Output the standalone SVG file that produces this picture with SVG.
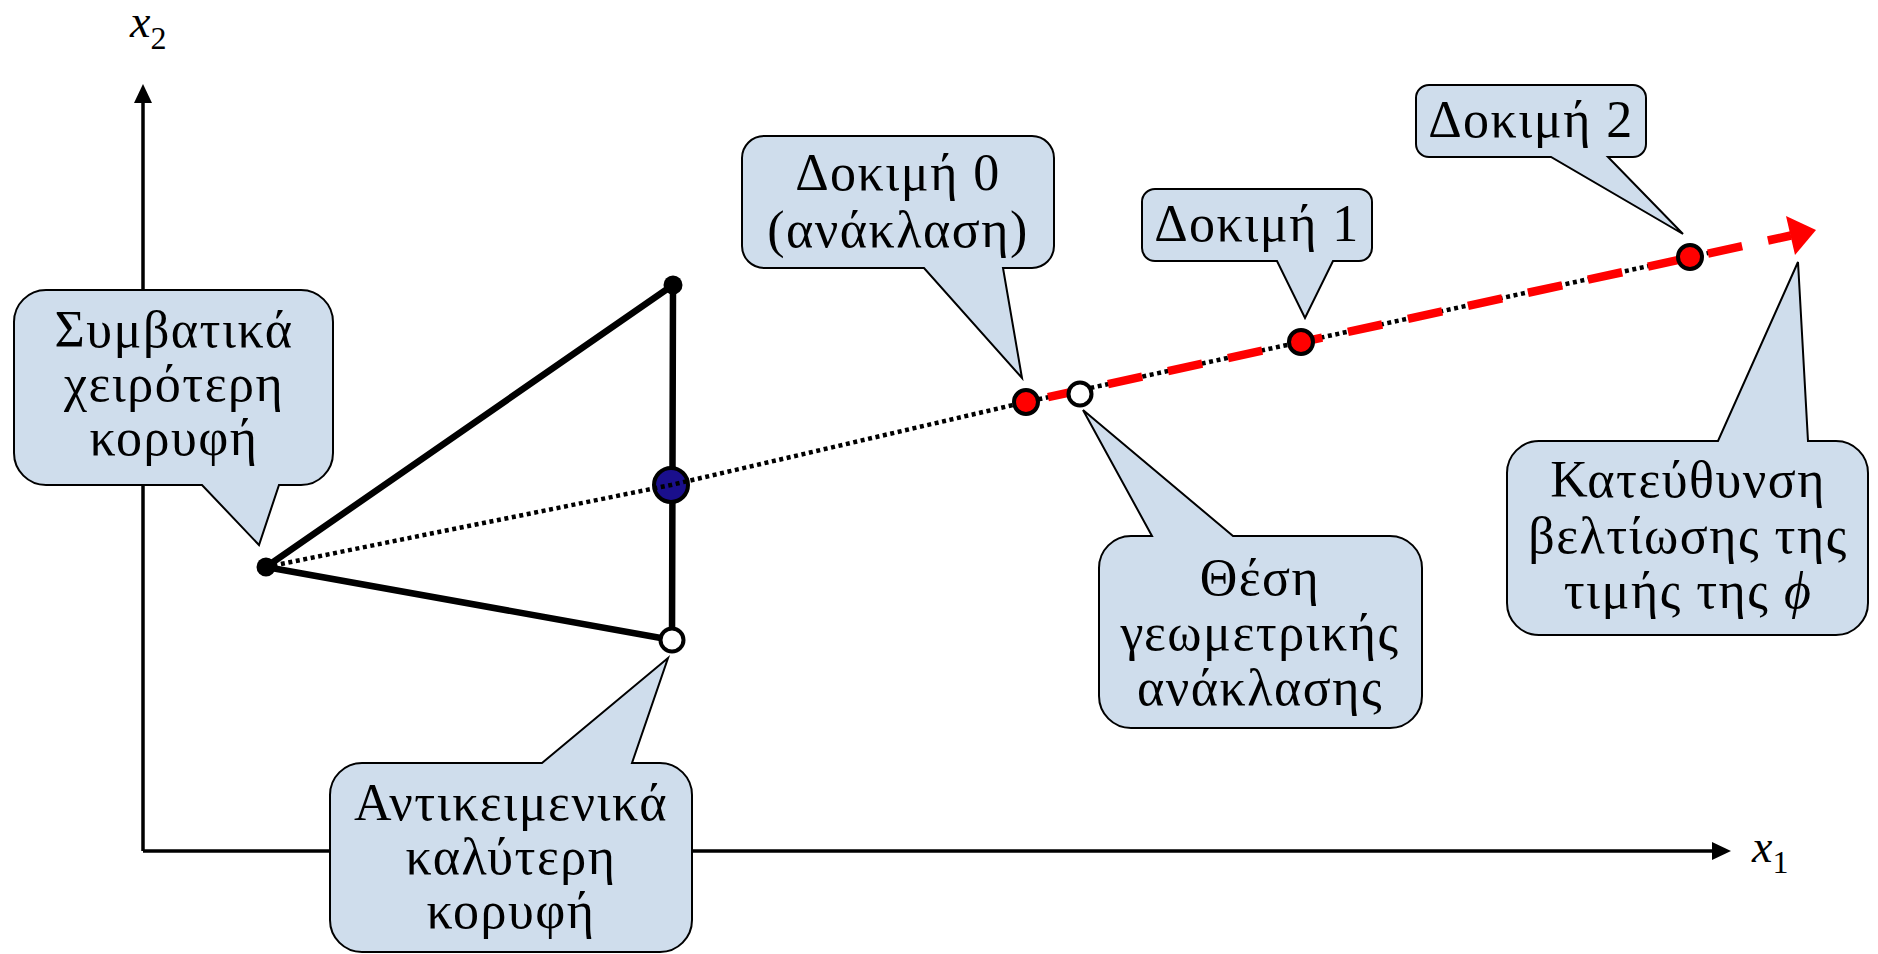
<svg xmlns="http://www.w3.org/2000/svg" width="1878" height="954" viewBox="0 0 1878 954">
  <style>
    .axis { stroke:#000; stroke-width:3.5; fill:none; }
    .edge { stroke:#000; stroke-width:6.5; fill:none; stroke-linecap:round; }
    .dotted { stroke:#000; stroke-width:4.5; fill:none; stroke-dasharray:4 3.6; }
    .search { stroke:#ff0000; stroke-width:8.5; fill:none; stroke-dasharray:35 26.4; }
    .callout { fill:#cfddec; stroke:#000; stroke-width:2; stroke-linejoin:miter; }
    .lbl { font-family:"Liberation Serif", "DejaVu Serif", serif; font-size:52px; letter-spacing:1.5px; text-anchor:middle; fill:#000; }
    .math { font-family:"Liberation Serif", "DejaVu Serif", serif; font-size:46px; font-style:italic; fill:#000; }
    .pt-red { fill:#ff0000; stroke:#000; stroke-width:4; }
    .pt-white { fill:#fff; stroke:#000; stroke-width:4; }
    .pt-blue { fill:#1a0f8c; stroke:#000; stroke-width:4; }
    .pt-black { fill:#000; }
  </style>

  <!-- coordinate axes -->
  <g id="axes">
    <line class="axis" x1="143" y1="851" x2="143" y2="100"/>
    <polygon points="143,84 134,103 152,103" fill="#000"/>
    <line class="axis" x1="143" y1="851" x2="1714" y2="851"/>
    <polygon points="1731,851 1712,842 1712,860" fill="#000"/>
    <text class="math" x="130" y="37">x<tspan font-style="normal" font-size="32" dy="12">2</tspan></text>
    <text class="math" x="1752" y="862">x<tspan font-style="normal" font-size="32" dy="11">1</tspan></text>
  </g>

  <!-- simplex edges, reflection line and search direction -->
  <g id="connectors">
    <line class="edge" x1="266" y1="567" x2="673" y2="285"/>
    <line class="edge" x1="266" y1="567" x2="672" y2="640"/>
    <line class="edge" x1="673" y1="285" x2="672" y2="640"/>
    <circle id="centroid" class="pt-blue" cx="671" cy="485" r="17"/>
    <polyline class="dotted" points="266,567 671,485 1026,402 1710,252.6"/>
    <path class="search" d="M1048,397.2 L1791,235.5"/>
    <polygon points="1816,230 1795,255 1786,216" fill="#ff0000"/>
  </g>

  <!-- simplex vertices and trial points -->
  <g id="vertex-worst"><circle class="pt-black" cx="266" cy="567" r="9.5"/></g>
  <g id="vertex-top"><circle class="pt-black" cx="673" cy="285" r="9.5"/></g>
  <g id="vertex-best"><circle class="pt-white" cx="672" cy="640" r="11.5"/></g>
  <g id="trial-0"><circle class="pt-red" cx="1026" cy="402" r="12"/></g>
  <g id="reflection"><circle class="pt-white" cx="1080" cy="394" r="11.5"/></g>
  <g id="trial-1"><circle class="pt-red" cx="1301" cy="342" r="12"/></g>
  <g id="trial-2"><circle class="pt-red" cx="1690" cy="257" r="12"/></g>

  <!-- callouts -->
  <g id="callout-worst">
    <path class="callout" d="M46,290 L301,290 A32,32 0 0 1 333,322 L333,453 A32,32 0 0 1 301,485 L279,485 L259,545 L202,485 L46,485 A32,32 0 0 1 14,453 L14,322 A32,32 0 0 1 46,290 Z"/>
    <text class="lbl"><tspan x="174" y="347">Συμβατικά</tspan><tspan x="174" y="401">χειρότερη</tspan><tspan x="174" y="455">κορυφή</tspan></text>
  </g>

  <g id="callout-best">
    <path class="callout" d="M362,763 L542,763 L668,658 L632,763 L660,763 A32,32 0 0 1 692,795 L692,920 A32,32 0 0 1 660,952 L362,952 A32,32 0 0 1 330,920 L330,795 A32,32 0 0 1 362,763 Z"/>
    <text class="lbl"><tspan x="511" y="820">Αντικειμενικά</tspan><tspan x="511" y="874">καλύτερη</tspan><tspan x="511" y="928">κορυφή</tspan></text>
  </g>

  <g id="callout-trial-0">
    <path class="callout" d="M764,136 L1032,136 A22,22 0 0 1 1054,158 L1054,246 A22,22 0 0 1 1032,268 L1003,268 L1022,378 L924,268 L764,268 A22,22 0 0 1 742,246 L742,158 A22,22 0 0 1 764,136 Z"/>
    <text class="lbl"><tspan x="898" y="190">Δοκιμή 0</tspan><tspan x="898" y="247">(ανάκλαση)</tspan></text>
  </g>

  <g id="callout-trial-1">
    <path class="callout" d="M1155,189 L1359,189 A13,13 0 0 1 1372,202 L1372,248 A13,13 0 0 1 1359,261 L1333,261 L1305,318 L1277,261 L1155,261 A13,13 0 0 1 1142,248 L1142,202 A13,13 0 0 1 1155,189 Z"/>
    <text class="lbl" x="1257" y="241">Δοκιμή 1</text>
  </g>

  <g id="callout-trial-2">
    <path class="callout" d="M1429,85 L1633,85 A13,13 0 0 1 1646,98 L1646,144 A13,13 0 0 1 1633,157 L1608,157 L1683,234 L1551,157 L1429,157 A13,13 0 0 1 1416,144 L1416,98 A13,13 0 0 1 1429,85 Z"/>
    <text class="lbl" x="1531" y="137">Δοκιμή 2</text>
  </g>

  <g id="callout-reflection">
    <path class="callout" d="M1131,536 L1152,536 L1083,410 L1233,536 L1390,536 A32,32 0 0 1 1422,568 L1422,696 A32,32 0 0 1 1390,728 L1131,728 A32,32 0 0 1 1099,696 L1099,568 A32,32 0 0 1 1131,536 Z"/>
    <text class="lbl"><tspan x="1260" y="595">Θέση</tspan><tspan x="1260" y="650">γεωμετρικής</tspan><tspan x="1260" y="705">ανάκλασης</tspan></text>
  </g>

  <g id="callout-direction">
    <path class="callout" d="M1539,441 L1718,441 L1798,262 L1808,441 L1836,441 A32,32 0 0 1 1868,473 L1868,603 A32,32 0 0 1 1836,635 L1539,635 A32,32 0 0 1 1507,603 L1507,473 A32,32 0 0 1 1539,441 Z"/>
    <text class="lbl"><tspan x="1688" y="497">Κατεύθυνση</tspan><tspan x="1688" y="553">βελτίωσης της</tspan><tspan x="1688" y="608">τιμής της <tspan font-style="italic">ϕ</tspan></tspan></text>
  </g>
</svg>
